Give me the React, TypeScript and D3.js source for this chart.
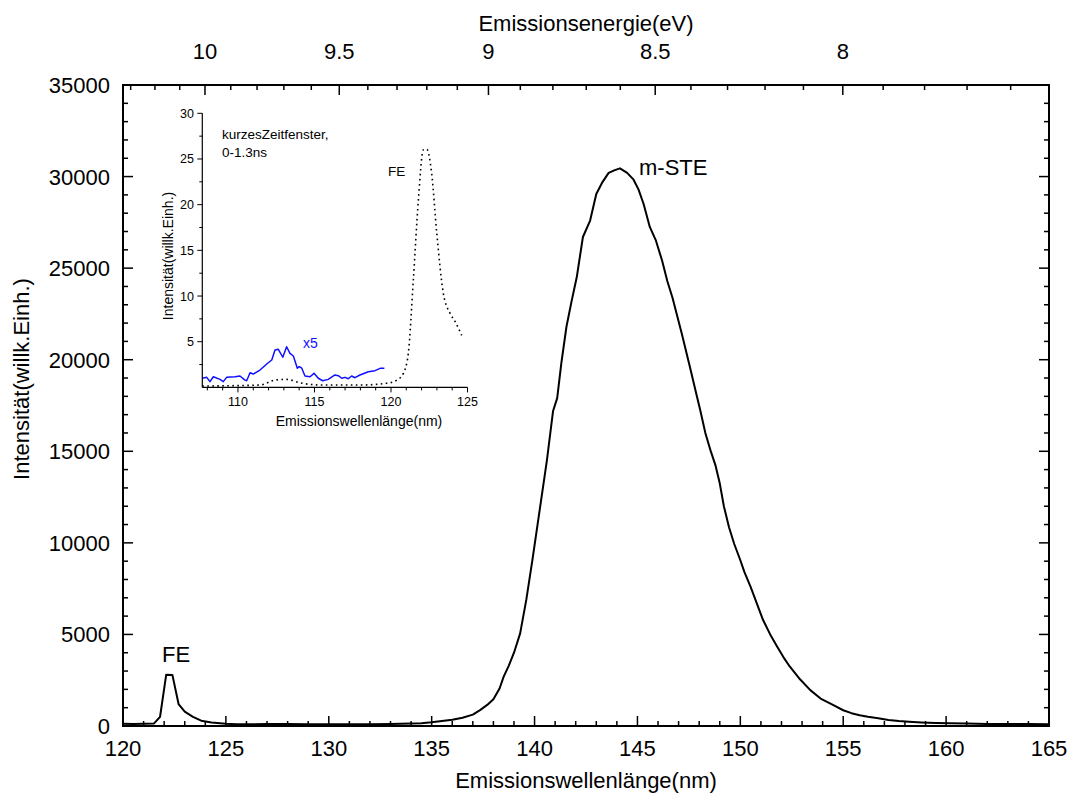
import React from "react";
import * as d3 from "d3";

// ---------- data ----------
const MAIN_NM = [
  120.0, 120.5, 121.0, 121.5, 121.8, 122.1, 122.4, 122.7, 123.0, 123.4, 123.8, 124.3, 125.0, 125.5, 126, 127, 128, 129, 130, 131, 132, 133, 134, 134.5, 135, 135.5, 136, 136.5, 137, 137.35, 137.7, 138.0, 138.3, 138.5, 138.75, 139.0, 139.3, 139.6, 139.9, 140.25, 140.6, 140.9, 141.1, 141.3, 141.55, 141.8, 142.05, 142.35, 142.7, 143.0, 143.3, 143.6, 143.9, 144.15, 144.5, 144.8, 145.05, 145.3, 145.6, 145.9, 146.2, 146.45, 146.7, 147.15, 147.55, 147.9, 148.05, 148.3, 148.55, 148.8, 149.0, 149.2, 149.45, 149.7, 150.0, 150.2, 150.5, 150.8, 151.1, 151.45, 151.8, 152.1, 152.4, 152.9, 153.4, 153.9, 154.5, 155.0, 155.4, 155.8, 156.2, 156.7, 157.2, 157.7, 158.2, 158.8, 159.5, 160.2, 161, 162, 163, 164, 165,
];
const MAIN_INT = [
  120, 115, 120, 130, 500, 2800, 2790, 1200, 780, 500, 290, 190, 120, 100, 95, 110, 105, 95, 90, 100, 95, 110, 130, 150, 200, 270, 340, 450, 620, 870, 1150, 1460, 2050, 2700, 3300, 4000, 5060, 6900, 9100, 11800, 14500, 17200, 17900, 19800, 21800, 23200, 24500, 26700, 27600, 29050, 29700, 30200, 30350, 30450, 30200, 29850, 29300, 28500, 27250, 26500, 25400, 24300, 23400, 21450, 19600, 17950, 17250, 16000, 15050, 14200, 13250, 12000, 10850, 9950, 9050, 8400, 7600, 6700, 5800, 5000, 4320, 3750, 3250, 2550, 1960, 1500, 1150, 860, 700, 590, 500, 420, 330, 270, 230, 190, 160, 145, 130, 115, 110, 105, 100,
];

const INSET_DOT_NM = [107.67, 111.44, 112.42, 113.18, 114.06, 115.36, 117.97, 119.72, 120.38, 120.81, 121.13, 121.46, 121.79, 122.11, 122.34, 122.66, 122.99, 123.42, 123.86, 124.19, 124.62];
const INSET_DOT_VAL = [0.15, 0.26, 0.8, 0.88, 0.5, 0.26, 0.26, 0.45, 0.8, 1.54, 3.7, 11.75, 20.5, 26.0, 26.06, 23.4, 16.9, 10.3, 8.1, 7.2, 5.7];

const INSET_BLUE_NM = [107.67, 107.96, 108.17, 108.39, 108.83, 109.04, 109.26, 109.81, 110.13, 110.46, 110.57, 110.79, 111.0, 111.44, 111.88, 112.21, 112.42, 112.64, 112.93, 113.18, 113.4, 113.62, 113.88, 114.01, 114.17, 114.38, 114.71, 114.97, 115.25, 115.54, 115.9, 116.34, 116.56, 116.78, 117.0, 117.21, 117.43, 117.65, 117.97, 118.52, 118.96, 119.29, 119.57];
const INSET_BLUE_VAL = [1.0, 1.1, 0.63, 1.17, 0.88, 0.63, 1.1, 1.17, 1.25, 0.8, 0.73, 1.6, 1.46, 1.9, 2.56, 3.0, 4.1, 4.17, 3.3, 4.45, 3.73, 3.44, 2.1, 2.27, 2.1, 1.25, 1.17, 1.54, 1.0, 0.73, 0.88, 1.36, 1.28, 1.0, 1.1, 0.95, 1.25, 1.06, 1.36, 1.72, 1.83, 2.09, 2.09];

const X_TICKS = [120, 125, 130, 135, 140, 145, 150, 155, 160, 165];
const X_MINOR = d3.range(120, 165.01, 1);
const Y_TICKS = [0, 5000, 10000, 15000, 20000, 25000, 30000, 35000];
const Y_MINOR = d3.range(0, 35001, 1000);
const EV_TICKS = [10, 9.5, 9, 8.5, 8];
const EV_MINOR = d3.range(7.6, 10.35, 0.1);
const INSET_X_TICKS = [110, 115, 120, 125];
const INSET_X_MINOR = d3.range(108, 125.01, 1);
const INSET_Y_TICKS = [5, 10, 15, 20, 25, 30];
const INSET_Y_MINOR = d3.range(2.5, 30.01, 2.5);

const HC = 1239.84;
const FONT = "'Liberation Sans', Arial, Helvetica, sans-serif";

export default function App() {
  const L = 123, R = 1049, T = 85, B = 726;
  const x = d3.scaleLinear().domain([120, 165]).range([L, R]);
  const y = d3.scaleLinear().domain([0, 35000]).range([B, T]);

  const ix = d3.scaleLinear().domain([107.67, 125]).range([202.3, 467.5]);
  const iy = d3.scaleLinear().domain([0, 30]).range([387.4, 113.3]);
  const iL = 202.3, iB = 387.4;

  const mainLine = d3.line<number>().x((_, i) => x(MAIN_NM[i])).y((d) => y(d));
  const dotLine = d3.line<number>().x((_, i) => ix(INSET_DOT_NM[i])).y((d) => iy(d)).curve(d3.curveMonotoneX);
  const blueLine = d3.line<number>().x((_, i) => ix(INSET_BLUE_NM[i])).y((d) => iy(d));

  const evInRange = (e: number) => {
    const nm = HC / e;
    return nm >= 120 && nm <= 165;
  };

  return (
    <svg width={1073} height={794} style={{ position: "absolute", left: 0, top: 0, background: "#fff" }} fontFamily={FONT}>
      <rect x={0} y={0} width={1073} height={794} fill="#fff" />

      {/* main curve */}
      <path d={mainLine(MAIN_INT) || ""} fill="none" stroke="#000" strokeWidth={2} strokeLinejoin="round" />

      {/* frame */}
      <rect x={L} y={T} width={R - L} height={B - T} fill="none" stroke="#000" strokeWidth={2} />

      {/* bottom ticks (inward) */}
      {X_MINOR.map((v) => (
        <line key={"xm" + v} x1={x(v)} x2={x(v)} y1={B} y2={B - (v % 5 === 0 ? 10 : 5)} stroke="#000" strokeWidth={1.5} />
      ))}
      {X_TICKS.map((v) => (
        <text key={"xt" + v} x={x(v)} y={756} fontSize={22} textAnchor="middle">{v}</text>
      ))}
      <text x={(L + R) / 2} y={788} fontSize={22} textAnchor="middle">Emissionswellenlänge(nm)</text>

      {/* left & right ticks */}
      {Y_MINOR.map((v) => {
        const len = v % 5000 === 0 ? 10 : 5;
        return (
          <g key={"ym" + v}>
            <line x1={L} x2={L + len} y1={y(v)} y2={y(v)} stroke="#000" strokeWidth={1.5} />
            <line x1={R} x2={R - len} y1={y(v)} y2={y(v)} stroke="#000" strokeWidth={1.5} />
          </g>
        );
      })}
      {Y_TICKS.map((v) => (
        <text key={"yt" + v} x={110} y={y(v) + 8} fontSize={22} textAnchor="end">{v}</text>
      ))}
      <text transform="translate(29,379) rotate(-90)" fontSize={22} textAnchor="middle">Intensität(willk.Einh.)</text>

      {/* top energy axis */}
      {EV_MINOR.filter(evInRange).map((e) => {
        const major = Math.abs(e * 2 - Math.round(e * 2)) < 1e-6;
        return (
          <line key={"em" + e.toFixed(2)} x1={x(HC / e)} x2={x(HC / e)} y1={T} y2={T + (major ? 10 : 5)} stroke="#000" strokeWidth={1.5} />
        );
      })}
      {EV_TICKS.map((e) => (
        <text key={"et" + e} x={x(HC / e)} y={59} fontSize={22} textAnchor="middle">{e}</text>
      ))}
      <text x={(L + R) / 2} y={31} fontSize={22} textAnchor="middle">Emissionsenergie(eV)</text>

      {/* annotations */}
      <text x={162} y={662} fontSize={22}>FE</text>
      <text x={639} y={175} fontSize={22}>m-STE</text>

      {/* ---------- inset ---------- */}
      <path d={dotLine(INSET_DOT_VAL) || ""} fill="none" stroke="#000" strokeWidth={1.6} strokeDasharray="1.6 3.4" />
      <path d={blueLine(INSET_BLUE_VAL) || ""} fill="none" stroke="#1010ff" strokeWidth={1.5} strokeLinejoin="round" />
      <line x1={iL} x2={iL} y1={iy(30)} y2={iB} stroke="#000" strokeWidth={1.2} />
      <line x1={iL} x2={ix(125)} y1={iB} y2={iB} stroke="#000" strokeWidth={1.2} />
      {INSET_Y_MINOR.map((v) => (
        <line key={"iym" + v} x1={iL} x2={iL - (v % 5 === 0 ? 5 : 3)} y1={iy(v)} y2={iy(v)} stroke="#000" strokeWidth={1} />
      ))}
      {INSET_Y_TICKS.map((v) => (
        <text key={"iyt" + v} x={194} y={iy(v) + 4.5} fontSize={12.5} textAnchor="end">{v}</text>
      ))}
      {INSET_X_MINOR.map((v) => (
        <line key={"ixm" + v} x1={ix(v)} x2={ix(v)} y1={iB} y2={iB + (v % 5 === 0 ? 5 : 3)} stroke="#000" strokeWidth={1} />
      ))}
      {INSET_X_TICKS.map((v) => (
        <text key={"ixt" + v} x={ix(v)} y={406} fontSize={12.5} textAnchor="middle">{v}</text>
      ))}
      <text x={359} y={426} fontSize={14} textAnchor="middle">Emissionswellenlänge(nm)</text>
      <text transform="translate(173,256) rotate(-90)" fontSize={14} textAnchor="middle">Intensität(willk.Einh.)</text>
      <text x={222} y={139} fontSize={13.5}>kurzesZeitfenster,</text>
      <text x={222} y={157} fontSize={13.5}>0-1.3ns</text>
      <text x={388} y={176} fontSize={13.5}>FE</text>
      <text x={303} y={348} fontSize={14} fill="#1010ff">x5</text>
    </svg>
  );
}
